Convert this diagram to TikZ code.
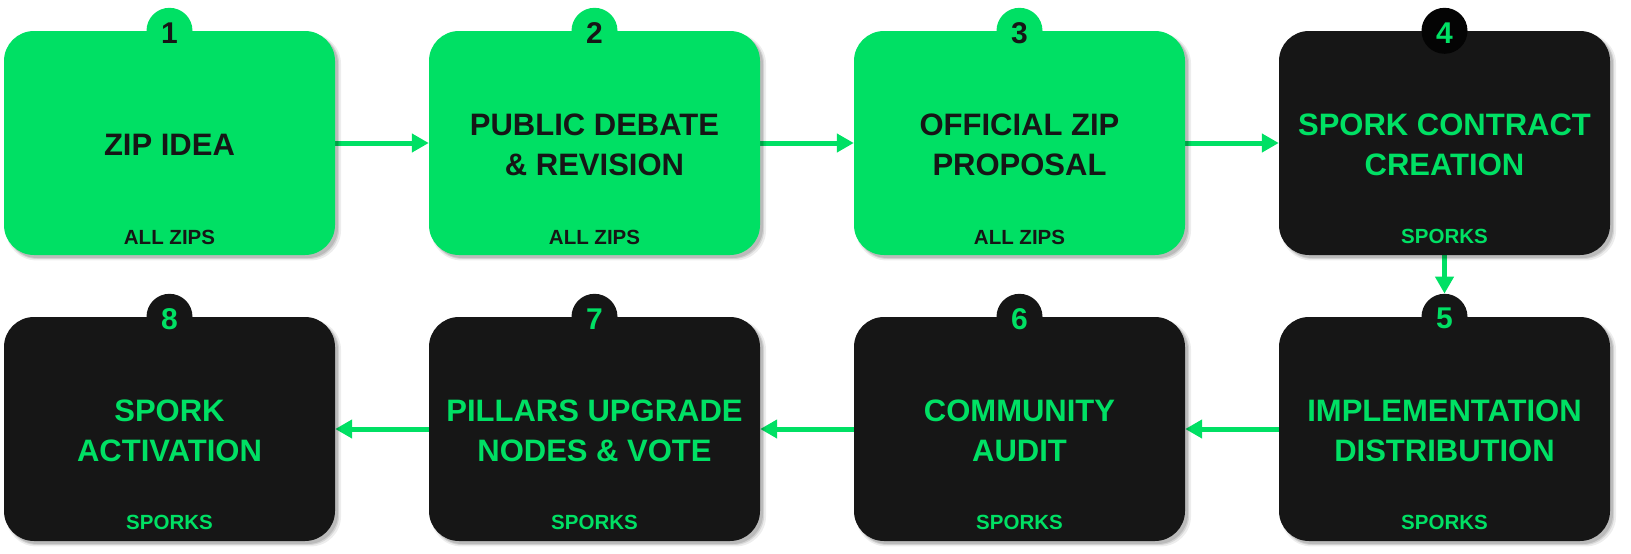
\documentclass[tikz,border=0pt]{standalone}
\usepackage{fontspec}
\setmainfont{Liberation Sans}
\usetikzlibrary{arrows.meta,shadows}
\definecolor{zgreen}{RGB}{0,224,100}
\definecolor{zdark}{RGB}{22,22,22}
\definecolor{zblack}{RGB}{4,4,4}
\pgfdeclarelayer{bg}
\pgfsetlayers{bg,main}
\tikzset{
  softshadow/.style={
    general shadow={shadow xshift=4pt,shadow yshift=-4pt,shadow scale=1.012,fill=black,opacity=0.07},
    general shadow={shadow xshift=3.5pt,shadow yshift=-3.5pt,shadow scale=1.004,fill=black,opacity=0.10},
    general shadow={shadow xshift=3pt,shadow yshift=-3pt,fill=black,opacity=0.12}},
  card/.style={rectangle,rounded corners=30pt,minimum width=331pt,minimum height=224pt,
    inner sep=0pt,softshadow},
  greencard/.style={card,fill=zgreen},
  darkcard/.style={card,fill=zdark},
  badge/.style={circle,minimum size=46pt,inner sep=0pt},
  num/.style={font=\bfseries\fontsize{30}{30}\selectfont},
  title/.style={font=\bfseries\fontsize{31}{40}\selectfont,align=center,inner sep=0pt,yshift=-2pt},
  sub/.style={font=\bfseries\fontsize{20.5}{24}\selectfont,anchor=base,inner sep=0pt},
  flow/.style={draw=zgreen,line width=5pt,-{Triangle[length=17pt,width=18pt]}}
}
\begin{document}
\begin{tikzpicture}[x=1pt,y=-1pt]
\useasboundingbox (0,0) rectangle (1631,554);

% ---- top row: ZIP stages ----
\node[greencard] (b1) at (169.5,143) {};
\node[greencard] (b2) at (594.5,143) {};
\node[greencard] (b3) at (1019.5,143) {};
\node[darkcard]  (b4) at (1444.5,143) {};
% ---- bottom row: spork stages ----
\node[darkcard] (b5) at (1444.5,429) {};
\node[darkcard] (b6) at (1019.5,429) {};
\node[darkcard] (b7) at (594.5,429) {};
\node[darkcard] (b8) at (169.5,429) {};

% ---- number badges ----
\node[badge,fill=zgreen] (c1) at (b1.north) {};
\node[badge,fill=zgreen] (c2) at (b2.north) {};
\node[badge,fill=zgreen] (c3) at (b3.north) {};
\node[badge,fill=zblack] (c4) at (b4.north) {};
\node[badge,fill=zdark]  (c5) at (b5.north) {};
\node[badge,fill=zdark]  (c6) at (b6.north) {};
\node[badge,fill=zdark]  (c7) at (b7.north) {};
\node[badge,fill=zdark]  (c8) at (b8.north) {};
\node[num,text=zdark]  (n1) at ([yshift=-2pt]c1.center) {1};
\node[num,text=zdark]  (n2) at ([yshift=-2pt]c2.center) {2};
\node[num,text=zdark]  (n3) at ([yshift=-2pt]c3.center) {3};
\node[num,text=zgreen] (n4) at ([yshift=-2pt]c4.center) {4};
\node[num,text=zgreen] (n5) at ([yshift=-2pt]c5.center) {5};
\node[num,text=zgreen] (n6) at ([yshift=-2pt]c6.center) {6};
\node[num,text=zgreen] (n7) at ([yshift=-2pt]c7.center) {7};
\node[num,text=zgreen] (n8) at ([yshift=-2pt]c8.center) {8};

% ---- stage titles ----
\node[title,text=zdark]  (t1) at (b1.center) {ZIP IDEA};
\node[title,text=zdark]  (t2) at (b2.center) {PUBLIC DEBATE\\\& REVISION};
\node[title,text=zdark]  (t3) at (b3.center) {OFFICIAL ZIP\\PROPOSAL};
\node[title,text=zgreen] (t4) at (b4.center) {SPORK CONTRACT\\CREATION};
\node[title,text=zgreen] (t5) at (b5.center) {IMPLEMENTATION\\DISTRIBUTION};
\node[title,text=zgreen] (t6) at (b6.center) {COMMUNITY\\AUDIT};
\node[title,text=zgreen] (t7) at (b7.center) {PILLARS UPGRADE\\NODES \& VOTE};
\node[title,text=zgreen] (t8) at (b8.center) {SPORK\\ACTIVATION};

% ---- category labels ----
\node[sub,text=zdark]  (s1) at ([yshift=11pt]b1.south) {ALL ZIPS};
\node[sub,text=zdark]  (s2) at ([yshift=11pt]b2.south) {ALL ZIPS};
\node[sub,text=zdark]  (s3) at ([yshift=11pt]b3.south) {ALL ZIPS};
\node[sub,text=zgreen] (s4) at ([yshift=12pt]b4.south) {SPORKS};
\node[sub,text=zgreen] (s5) at ([yshift=12pt]b5.south) {SPORKS};
\node[sub,text=zgreen] (s6) at ([yshift=12pt]b6.south) {SPORKS};
\node[sub,text=zgreen] (s7) at ([yshift=12pt]b7.south) {SPORKS};
\node[sub,text=zgreen] (s8) at ([yshift=12pt]b8.south) {SPORKS};

% ---- flow arrows ----
\begin{pgfonlayer}{bg}
\draw[flow] (b1.east) -- (b2.west);
\draw[flow] (b2.east) -- (b3.west);
\draw[flow] (b3.east) -- (b4.west);
\draw[flow] (b4.south) -- (c5.north);
\draw[flow] (b5.west) -- (b6.east);
\draw[flow] (b6.west) -- (b7.east);
\draw[flow] (b7.west) -- (b8.east);
\end{pgfonlayer}
\end{tikzpicture}
\end{document}
